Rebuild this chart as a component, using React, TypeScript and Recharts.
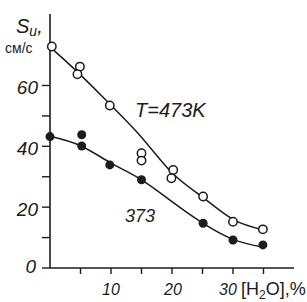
import { ComposedChart, Line, Scatter, XAxis, YAxis } from 'recharts';

// open circles, T = 473 K
const hotX = [0.3, 4.9, 4.5, 9.8, 15, 15, 20.2, 19.9, 25.1, 30, 34.9];
const hotY = [72.8, 66.2, 63.7, 53.4, 37.7, 35.3, 32.2, 29.5, 23.5, 15.2, 12.7];
// filled circles, T = 373 K
const coldX = [0, 5.2, 5.2, 9.8, 15, 25.1, 30, 34.9];
const coldY = [43.2, 43.8, 40.1, 33.9, 29, 14.7, 9.2, 7.6];

// fitted curves
const curveX = [0, 5, 10, 15, 20, 25, 30, 35];
const hotCurve = [72.7, 63.5, 53.5, 43, 31.3, 23.3, 16, 12.5];
const coldCurve = [43.3, 40.2, 34.5, 29, 21.8, 14.8, 9.4, 6.8];

const xTicks = [5, 10, 15, 20, 25, 30, 35];
const xLabels = [10, 20, 30];
const yTicks = [0, 10, 20, 30, 40, 50, 60];
const yLabels = [0, 20, 40, 60];

const ink = '#1c1c1c';
const font = '"Liberation Sans", Arial, sans-serif';

const toPoints = (xs: number[], ys: number[]) => xs.map((x, i) => ({ x, y: ys[i] }));

const hotPoints = toPoints(hotX, hotY);
const coldPoints = toPoints(coldX, coldY);
const hotLine = toPoints(curveX, hotCurve);
const coldLine = toPoints(curveX, coldCurve);

function XTick(props: any) {
  const { x, y, payload } = props;
  if (!xLabels.includes(payload.value)) return null;
  const shift = payload.value === 30 ? -5 : payload.value === 20 ? 1 : 0;
  return (
    <text x={x + shift} y={y + 19} textAnchor="middle" fontFamily={font} fontStyle="italic" fontSize={16} fill={ink}>
      {payload.value}
    </text>
  );
}

function YTick(props: any) {
  const { x, y, payload } = props;
  if (!yLabels.includes(payload.value)) return null;
  const zero = payload.value === 0;
  return (
    <text x={zero ? x - 4 : x - 2} y={zero ? y + 5 : y + 9} textAnchor="end" fontFamily={font} fontStyle="italic" fontSize={19} fill={ink}>
      {payload.value}
    </text>
  );
}

const openDot = (p: any) => <circle cx={p.cx} cy={p.cy} r={4.2} fill="#fff" stroke={ink} strokeWidth={1.5} />;
const fullDot = (p: any) => <circle cx={p.cx} cy={p.cy} r={4.5} fill={ink} />;

export default function App() {
  return (
    <div style={{ position: 'absolute', left: 0, top: 0, width: 307, height: 302, background: '#fff' }}>
      <ComposedChart width={307} height={302} margin={{ top: 14, right: 13, bottom: 0, left: 0 }}>
        <XAxis
          type="number"
          dataKey="x"
          domain={[0, 40]}
          ticks={xTicks}
          tick={<XTick />}
          tickSize={6}
          height={34}
          axisLine={{ stroke: ink, strokeWidth: 1.6 }}
          tickLine={{ stroke: ink, strokeWidth: 1.4 }}
        />
        <YAxis
          type="number"
          dataKey="y"
          domain={[0, 83.5]}
          ticks={yTicks}
          tick={<YTick />}
          tickSize={8}
          width={50}
          axisLine={{ stroke: ink, strokeWidth: 1.6 }}
          tickLine={{ stroke: ink, strokeWidth: 1.4 }}
        />
        <Line data={hotLine} dataKey="y" type="natural" stroke={ink} strokeWidth={1.5} dot={false} isAnimationActive={false} />
        <Line data={coldLine} dataKey="y" type="natural" stroke={ink} strokeWidth={1.5} dot={false} isAnimationActive={false} />
        <Scatter data={hotPoints} dataKey="y" shape={openDot} isAnimationActive={false} />
        <Scatter data={coldPoints} dataKey="y" shape={fullDot} isAnimationActive={false} />
      </ComposedChart>
      <svg width={307} height={302} style={{ position: 'absolute', left: 0, top: 0, pointerEvents: 'none' }}>
        <text x={16} y={33} fontFamily={font} fontStyle="italic" fontSize={20} fill={ink}>
          S<tspan fontSize={14} dy={3}>u</tspan><tspan dy={-3}>,</tspan>
        </text>
        <text x={5} y={53} fontFamily={font} fontSize={14} fill={ink}>см/с</text>
        <text x={135} y={117} fontFamily={font} fontStyle="italic" fontSize={20} fill={ink}>T=473K</text>
        <text x={125} y={222} fontFamily={font} fontStyle="italic" fontSize={18} fill={ink}>373</text>
        <text x={241} y={295} fontFamily={font} fontSize={18} fill={ink}>
          [H<tspan fontSize={12} dy={4}>2</tspan><tspan dy={-4}>O],%</tspan>
        </text>
      </svg>
    </div>
  );
}
